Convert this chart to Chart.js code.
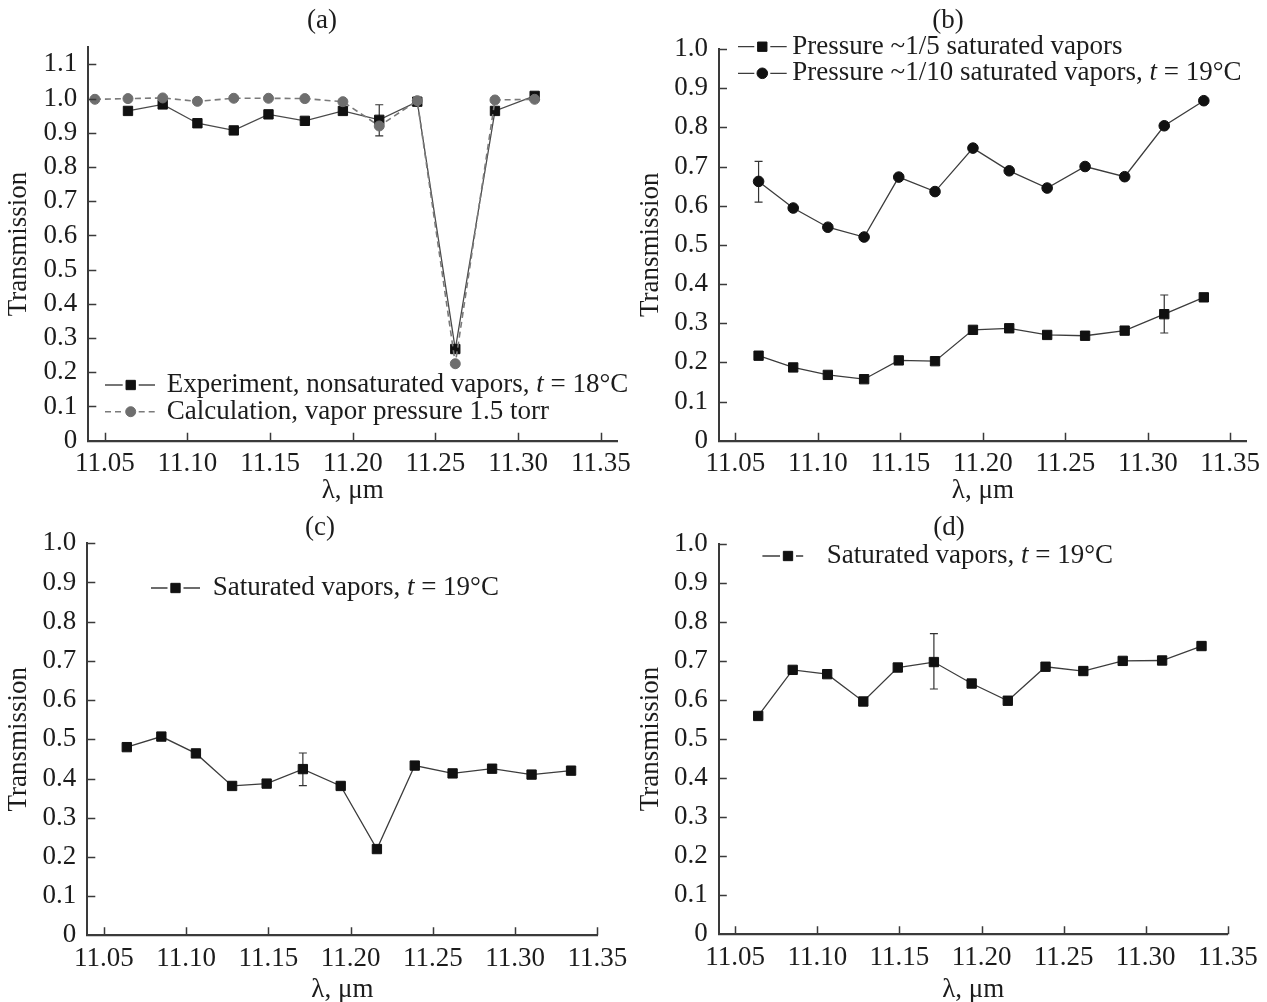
<!DOCTYPE html>
<html>
<head>
<meta charset="utf-8">
<script src="https://cdn.jsdelivr.net/npm/chart.js@4.4.1/dist/chart.umd.min.js"></script>
<style>
html, body { margin: 0; padding: 0; background: #fff; overflow: hidden; width: 1267px; height: 1002px; }
canvas { position: absolute; }
</style>
</head>
<body>
<canvas id="chartA" width="645" height="512" style="left:0px;top:0px"></canvas>
<canvas id="chartB" width="650" height="512" style="left:633px;top:0px"></canvas>
<canvas id="chartC" width="645" height="515" style="left:0px;top:495px"></canvas>
<canvas id="chartD" width="650" height="515" style="left:633px;top:495px"></canvas>
<script>
// wavelengths, um (panel a has one extra line at 11.044)
const lambdaA = [11.044, 11.064, 11.085, 11.106, 11.128, 11.149, 11.171, 11.194, 11.216, 11.239, 11.262, 11.286, 11.310];
const lambda = [11.064, 11.085, 11.106, 11.128, 11.149, 11.171, 11.194, 11.216, 11.239, 11.262, 11.286, 11.310, 11.334];

// (a) nonsaturated vapors
const expA = [null, 0.964, 0.983, 0.928, 0.907, 0.954, 0.935, 0.964, 0.938, 0.991, 0.268, 0.964, 1.008];
const calcA = [0.998, 1.000, 1.002, 0.992, 1.001, 1.001, 1.000, 0.991, 0.920, 0.994, 0.225, 0.996, 0.998];
const errA = { index: 8, low: 0.891, high: 0.982 };

// (b) partial pressures
const fifthB = [0.217, 0.187, 0.168, 0.157, 0.205, 0.203, 0.283, 0.287, 0.270, 0.268, 0.281, 0.323, 0.366];
const tenthB = [0.662, 0.594, 0.545, 0.520, 0.673, 0.636, 0.747, 0.689, 0.645, 0.700, 0.674, 0.804, 0.868];
const errFifthB = { index: 11, low: 0.275, high: 0.372 };
const errTenthB = { index: 0, low: 0.609, high: 0.713 };

// (c) and (d) saturated vapors
const satC = [0.480, 0.507, 0.464, 0.381, 0.387, 0.424, 0.381, 0.220, 0.433, 0.413, 0.425, 0.410, 0.420];
const errC = { index: 5, low: 0.382, high: 0.465 };
const satD = [0.559, 0.677, 0.666, 0.596, 0.683, 0.697, 0.642, 0.598, 0.685, 0.674, 0.700, 0.701, 0.738];
const errD = { index: 5, low: 0.628, high: 0.770 };

// ticks
const xTicks = [11.05, 11.10, 11.15, 11.20, 11.25, 11.30, 11.35];
const xTickLabels = ['11.05', '11.10', '11.15', '11.20', '11.25', '11.30', '11.35'];
const yTicksA = [0, 0.1, 0.2, 0.3, 0.4, 0.5, 0.6, 0.7, 0.8, 0.9, 1.0, 1.1];
const yTickLabelsA = ['0', '0.1', '0.2', '0.3', '0.4', '0.5', '0.6', '0.7', '0.8', '0.9', '1.0', '1.1'];
const yTicks = [0, 0.1, 0.2, 0.3, 0.4, 0.5, 0.6, 0.7, 0.8, 0.9, 1.0];
const yTickLabels = ['0', '0.1', '0.2', '0.3', '0.4', '0.5', '0.6', '0.7', '0.8', '0.9', '1.0'];

const FAMILY = '"Liberation Serif", "Times New Roman", serif';
const FONT_SIZE = 27;
const TEXT = '#1c1c1c';
const AXIS = '#3a3a3a';

Chart.defaults.font.family = FAMILY;
Chart.defaults.font.size = FONT_SIZE;
Chart.defaults.color = TEXT;

function points(xs, ys) {
    return xs.map((x, i) => ({ x: x, y: ys[i] }));
}

function errorBar(xs, err) {
    return [{ x: xs[err.index], low: err.low, high: err.high }];
}

// error bars, inward ticks, panel letter and the legend drawn inside the plot
const panelDecor = {
    id: 'panelDecor',
    beforeDatasetsDraw(chart) {
        const ctx = chart.ctx;
        const xs = chart.scales.x, ys = chart.scales.y;
        ctx.save();
        ctx.strokeStyle = '#333';
        ctx.lineWidth = 1.2;
        chart.data.datasets.forEach(ds => {
            (ds.errorBars || []).forEach(e => {
                const px = xs.getPixelForValue(e.x);
                const p1 = ys.getPixelForValue(e.low);
                const p2 = ys.getPixelForValue(e.high);
                ctx.beginPath();
                ctx.moveTo(px, p1); ctx.lineTo(px, p2);
                ctx.moveTo(px - 4, p1); ctx.lineTo(px + 4, p1);
                ctx.moveTo(px - 4, p2); ctx.lineTo(px + 4, p2);
                ctx.stroke();
            });
        });
        ctx.restore();
    },
    afterDraw(chart, args, opts) {
        const ctx = chart.ctx;
        const xs = chart.scales.x, ys = chart.scales.y;
        ctx.save();

        // inward tick marks
        ctx.strokeStyle = AXIS;
        ctx.lineWidth = 1.5;
        ctx.beginPath();
        xs.ticks.forEach(t => {
            const px = Math.round(xs.getPixelForValue(t.value)) + 0.5;
            ctx.moveTo(px, ys.bottom);
            ctx.lineTo(px, ys.bottom - 8);
        });
        ys.ticks.forEach(t => {
            if (t.value === 0) return;
            const py = Math.round(ys.getPixelForValue(t.value)) + 0.5;
            ctx.moveTo(xs.left, py);
            ctx.lineTo(xs.left + 8, py);
        });
        ctx.stroke();

        // panel letter
        ctx.fillStyle = TEXT;
        ctx.textBaseline = 'middle';
        ctx.textAlign = 'center';
        ctx.font = FONT_SIZE + 'px ' + FAMILY;
        ctx.fillText(opts.label, opts.labelX, opts.labelY);

        // legend rows: line - gap - marker - gap - line, then text
        ctx.textAlign = 'left';
        opts.items.forEach(item => {
            const ds = chart.data.datasets[item.ds];
            const gap = 8;
            ctx.strokeStyle = ds.borderColor;
            ctx.lineWidth = ds.borderWidth;
            ctx.setLineDash(ds.borderDash || []);
            ctx.beginPath();
            ctx.moveTo(item.x0, item.y);
            ctx.lineTo(item.xm - gap, item.y);
            ctx.moveTo(item.xm + gap, item.y);
            ctx.lineTo(item.x1, item.y);
            ctx.stroke();
            ctx.setLineDash([]);
            ctx.fillStyle = ds.pointBackgroundColor;
            ctx.strokeStyle = ds.pointBorderColor;
            ctx.lineWidth = ds.pointBorderWidth;
            Chart.helpers.drawPoint(ctx, {
                pointStyle: ds.pointStyle, radius: ds.pointRadius,
                borderWidth: ds.pointBorderWidth, rotation: 0
            }, item.xm, item.y);
            ctx.fillStyle = TEXT;
            let tx = item.tx;
            item.parts.forEach(p => {
                ctx.font = (p[1] ? 'italic ' : '') + FONT_SIZE + 'px ' + FAMILY;
                ctx.fillText(p[0], tx, item.y);
                tx += ctx.measureText(p[0]).width;
            });
        });
        ctx.restore();
    }
};

function lineSet(data, opts) {
    return Object.assign({
        data: data,
        showLine: true,
        borderColor: '#3c3c3c',
        borderWidth: 1.3,
        pointStyle: 'rect',
        pointRadius: 6.6,
        pointBackgroundColor: '#111',
        pointBorderColor: '#111',
        pointBorderWidth: 1
    }, opts || {});
}

function makeChart(id, cfg) {
    return new Chart(document.getElementById(id), {
        type: 'scatter',
        data: { datasets: cfg.datasets },
        options: {
            responsive: false,
            animation: false,
            devicePixelRatio: 1,
            layout: { padding: { left: 0, top: cfg.top, right: cfg.right, bottom: 0 } },
            plugins: {
                legend: { display: false },
                tooltip: { enabled: false },
                panelDecor: cfg.decor
            },
            scales: {
                x: {
                    type: 'linear',
                    min: 11.04,
                    max: cfg.xMax,
                    afterBuildTicks: s => { s.ticks = xTicks.map(v => ({ value: v })); },
                    afterFit: s => { s.height = cfg.xH; },
                    grid: { display: false, drawTicks: false },
                    border: { display: true, color: AXIS, width: 2.2 },
                    ticks: { padding: 7, autoSkip: false, maxRotation: 0, callback: (v, i) => xTickLabels[i] },
                    title: { display: true, text: 'λ, μm', padding: { top: 0, bottom: cfg.xTitlePad } }
                },
                y: {
                    type: 'linear',
                    min: 0,
                    max: cfg.yMax,
                    afterBuildTicks: s => { s.ticks = cfg.yTicks.map(v => ({ value: v })); },
                    afterFit: s => { s.width = cfg.yW; },
                    grid: { display: false, drawTicks: false },
                    border: { display: true, color: AXIS, width: 2 },
                    ticks: { padding: 11, autoSkip: false, callback: (v, i) => cfg.yLabels[i] },
                    title: { display: true, text: 'Transmission', padding: { top: cfg.yTitlePad, bottom: 0 } }
                }
            }
        },
        plugins: [panelDecor]
    });
}

// (a)
makeChart('chartA', {
    top: 47.3, right: 27.7, yW: 88.3, xH: 71.3, xTitlePad: 4.8, yTitlePad: 3,
    xMax: 11.36, yMax: 1.15, yTicks: yTicksA, yLabels: yTickLabelsA,
    datasets: [
        lineSet(points(lambdaA, calcA), {
            borderColor: '#7a7a7a', borderWidth: 1.6, borderDash: [6, 4],
            pointStyle: 'circle', pointRadius: 5,
            pointBackgroundColor: '#6e6e6e', pointBorderColor: '#6e6e6e'
        }),
        lineSet(points(lambdaA, expA), {
            borderColor: '#4a4a4a', errorBars: errorBar(lambdaA, errA)
        })
    ],
    decor: {
        label: '(a)', labelX: 322, labelY: 21,
        items: [
            { ds: 1, y: 385, x0: 105, x1: 155, xm: 130.7, tx: 166.7,
              parts: [['Experiment, nonsaturated vapors, ', false], ['t', true], [' = 18°C', false]] },
            { ds: 0, y: 411.7, x0: 105, x1: 155, xm: 130.7, tx: 166.7,
              parts: [['Calculation, vapor pressure 1.5 torr', false]] }
        ]
    }
});

// (b)
makeChart('chartB', {
    top: 49, right: 36.3, yW: 86, xH: 71.3, xTitlePad: 4.8, yTitlePad: 1.5,
    xMax: 11.36, yMax: 1.0, yTicks: yTicks, yLabels: yTickLabels,
    datasets: [
        lineSet(points(lambda, fifthB), { errorBars: errorBar(lambda, errFifthB) }),
        lineSet(points(lambda, tenthB), {
            pointStyle: 'circle', pointRadius: 5.3, errorBars: errorBar(lambda, errTenthB)
        })
    ],
    decor: {
        label: '(b)', labelX: 315, labelY: 21,
        items: [
            { ds: 0, y: 46.7, x0: 105, x1: 153.7, xm: 129.3, tx: 159.3,
              parts: [['Pressure ~1/5 saturated vapors', false]] },
            { ds: 1, y: 73.3, x0: 105, x1: 153.7, xm: 129.3, tx: 159.3,
              parts: [['Pressure ~1/10 saturated vapors, ', false], ['t', true], [' = 19°C', false]] }
        ]
    }
});

// (c)
makeChart('chartC', {
    top: 48.3, right: 47.6, yW: 87.3, xH: 74.7, xTitlePad: 3.8, yTitlePad: 3,
    xMax: 11.35, yMax: 1.0, yTicks: yTicks, yLabels: yTickLabels,
    datasets: [
        lineSet(points(lambda, satC), { errorBars: errorBar(lambda, errC) })
    ],
    decor: {
        label: '(c)', labelX: 320, labelY: 33,
        items: [
            { ds: 0, y: 93, x0: 151, x1: 200, xm: 175.5, tx: 212.7,
              parts: [['Saturated vapors, ', false], ['t', true], [' = 19°C', false]] }
        ]
    }
});

// (d)
makeChart('chartD', {
    top: 48.7, right: 55.2, yW: 85.8, xH: 75.7, xTitlePad: 3.8, yTitlePad: 2,
    xMax: 11.35, yMax: 1.0, yTicks: yTicks, yLabels: yTickLabels,
    datasets: [
        lineSet(points(lambda, satD), { errorBars: errorBar(lambda, errD) })
    ],
    decor: {
        label: '(d)', labelX: 316, labelY: 33,
        items: [
            { ds: 0, y: 61, x0: 129.4, x1: 170.2, xm: 155, tx: 193.8,
              parts: [['Saturated vapors, ', false], ['t', true], [' = 19°C', false]] }
        ]
    }
});
</script>
</body>
</html>
